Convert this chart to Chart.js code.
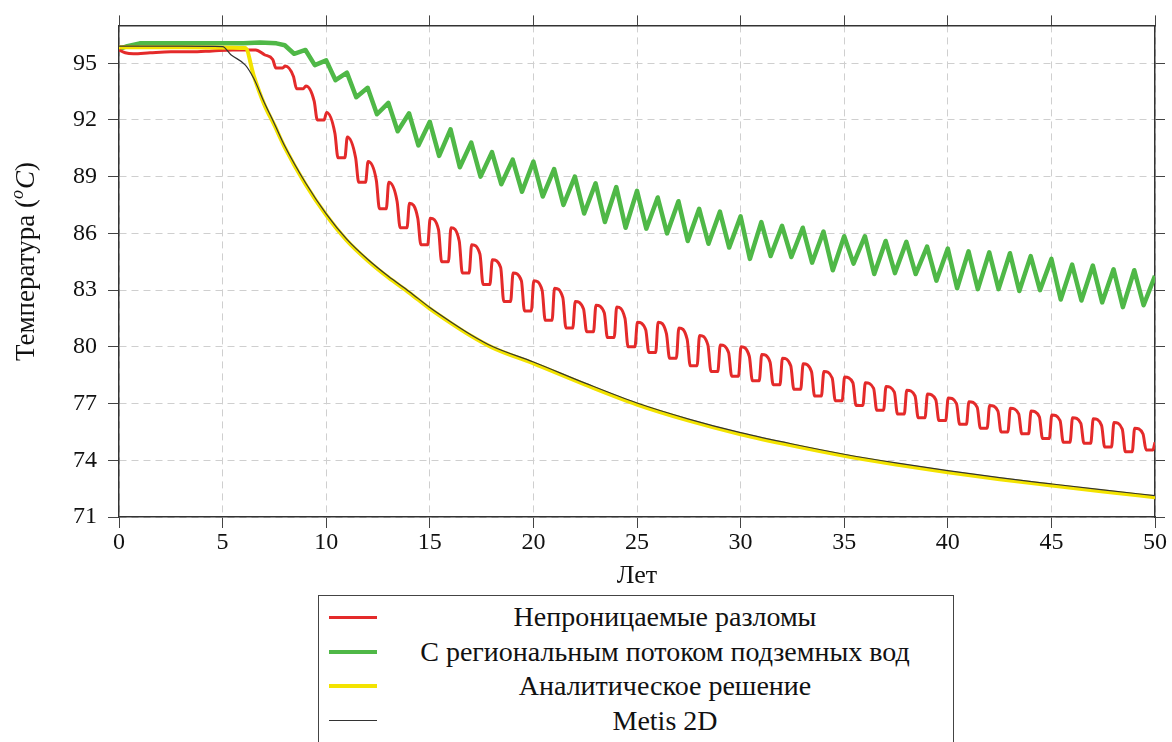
<!DOCTYPE html>
<html>
<head>
<meta charset="utf-8">
<script src="https://cdn.jsdelivr.net/npm/chart.js@4.4.1/dist/chart.umd.min.js"></script>
<style>
    body { margin: 0; background: #fff; }
    #wrap { position: relative; width: 1172px; height: 742px; }
    #legend {
        position: absolute; left: 318px; top: 595px; width: 636px; height: 170px;
        border: 1.5px solid #444; box-sizing: border-box; padding-top: 4px;
        font-family: 'Liberation Serif', 'Times New Roman', serif; font-size: 28px; color: #111; background: #fff;
    }
    .row { display: flex; align-items: center; height: 34.5px; }
    .swatch { width: 48px; margin-left: 10px; }
    .label { flex: 1; text-align: center; }
</style>
</head>
<body>
<div id="wrap">
    <canvas id="chart"></canvas>
    <div id="legend"></div>
</div>
<script>
const xTicks = [0, 5, 10, 15, 20, 25, 30, 35, 40, 45, 50];
const yTicks = [71, 74, 77, 80, 83, 86, 89, 92, 95];
const labels = ['Непроницаемые разломы', 'С региональным потоком подземных вод', 'Аналитическое решение', 'Metis 2D'];

// Impermeable faults: flat start, then one cycle per year (peak, plateau end, trough)
const redFlatYears = [0, 0.3, 0.7, 1.5, 2.5, 3.5, 4.5, 5.5, 6.6];
const redFlat = [95.7, 95.55, 95.5, 95.55, 95.6, 95.6, 95.65, 95.7, 95.7];
const redFirstYear = 7;
const redHigh = [95.45, 94.85, 93.8, 92.4, 91.1, 89.8, 88.7, 87.6, 86.8, 86.3,
    85.4, 84.6, 83.9, 83.5, 83.1, 82.4, 82.2, 82.1, 81.3, 81.3,
    81.0, 80.6, 80.1, 80.0, 79.6, 79.4, 79.1, 78.7, 78.4, 78.1,
    77.9, 77.7, 77.5, 77.3, 77.1, 76.9, 76.75, 76.6, 76.4, 76.25,
    76.2, 76.0, 75.7];
const redMid = [95.2, 94.3, 93.0, 91.3, 90.0, 88.8, 87.7, 86.8, 86.2, 85.6,
    84.9, 84.2, 83.5, 83.0, 82.6, 82.0, 81.8, 81.5, 80.9, 80.7,
    80.4, 80.1, 79.7, 79.5, 79.2, 79.0, 78.7, 78.35, 78.1, 77.8,
    77.6, 77.4, 77.2, 77.0, 76.8, 76.6, 76.45, 76.3, 76.1, 75.95,
    75.85, 75.65, 75.4];
const redLow = [94.75, 93.65, 92.0, 90.0, 88.7, 87.3, 86.3, 85.4, 84.5, 83.9,
    83.3, 82.4, 81.9, 81.4, 81.0, 80.8, 80.5, 80.0, 79.7, 79.4,
    79.0, 78.7, 78.45, 78.2, 78.0, 77.75, 77.4, 77.15, 76.9, 76.65,
    76.45, 76.25, 76.1, 75.9, 75.7, 75.5, 75.4, 75.15, 74.95, 74.9,
    74.7, 74.45, 74.55];
const redEnd = 74.95;

// Regional groundwater flow: flat start, then yearly spike and trough
const greenFlatYears = [0, 0.4, 1, 2, 3, 4, 5, 6, 6.8, 7.6];
const greenFlat = [95.75, 95.9, 96.05, 96.05, 96.05, 96.05, 96.05, 96.05, 96.1, 96.05];
const greenFirstYear = 8;
const greenHigh = [95.95, 95.7, 95.15, 94.5, 93.7, 92.9, 92.35, 91.9, 91.5, 90.8,
    90.3, 89.9, 89.8, 89.4, 89.0, 88.65, 88.45, 88.25, 87.9, 87.7,
    87.3, 87.15, 86.9, 86.6, 86.4, 86.3, 86.1, 85.85, 85.85, 85.6,
    85.55, 85.3, 85.2, 85.05, 85.0, 84.95, 84.8, 84.65, 84.35, 84.3,
    84.1, 84.05];
const greenLow = [95.5, 94.9, 94.1, 93.2, 92.3, 91.4, 90.65, 90.1, 89.5, 89.0,
    88.6, 88.2, 87.95, 87.5, 87.05, 86.6, 86.3, 86.25, 86.0, 85.6,
    85.45, 85.25, 84.65, 84.8, 84.75, 84.45, 84.05, 84.4, 83.85, 83.9,
    83.85, 83.5, 83.1, 83.05, 83.05, 82.95, 83.0, 82.5, 82.45, 82.35,
    82.1, 82.2];
const greenEnd = 83.75;

// Analytical solution
const analyticYears = [0, 3, 6.1, 6.5, 7, 7.5, 8, 9, 10, 11, 12, 13, 14, 15, 16, 17, 18,
    20, 22.5, 25, 27.5, 30, 32.5, 35, 37.5, 40, 42.5, 45, 47.5, 50];
const analytic = [95.85, 95.85, 95.8, 94.35, 92.85, 91.72, 90.55, 88.6, 86.97, 85.62, 84.57,
    83.67, 82.87, 82.02, 81.27, 80.57, 79.97, 79.12, 78.0, 76.95, 76.1, 75.38, 74.78,
    74.24, 73.78, 73.37, 73.0, 72.67, 72.35, 72.05];

// Metis 2D
const metisYears = [0, 3, 5, 5.4, 6.1, 6.5, 7, 7.5, 8, 9, 10, 11, 12, 13, 14, 15, 16, 17, 18,
    20, 22.5, 25, 27.5, 30, 32.5, 35, 37.5, 40, 42.5, 45, 47.5, 50];
const metis = [95.9, 95.9, 95.88, 95.45, 94.9, 94.2, 92.95, 91.8, 90.62, 88.68, 87.03,
    85.68, 84.63, 83.73, 82.93, 82.08, 81.33, 80.63, 80.03, 79.2, 78.08, 77.03, 76.18,
    75.46, 74.86, 74.32, 73.86, 73.45, 73.08, 72.75, 72.43, 72.13];

const colors = ['#e42a2a', '#4fb847', '#f3e300', '#333333'];
const widths = [3, 4.5, 4, 1.2];

const redPoints = redFlatYears.map((t, i) => ({ x: t, y: redFlat[i] }));
redHigh.forEach((v, i) => {
    const n = redFirstYear + i;
    redPoints.push({ x: n + 0.02, y: v }, { x: n + 0.42, y: redMid[i] },
        { x: n + 0.57, y: redLow[i] }, { x: n + 0.9, y: redLow[i] });
});
redPoints.push({ x: 50, y: redEnd });

const greenPoints = greenFlatYears.map((t, i) => ({ x: t, y: greenFlat[i] }));
greenHigh.forEach((v, i) => {
    const n = greenFirstYear + i;
    greenPoints.push({ x: n, y: v }, { x: n + 0.45, y: greenLow[i] });
});
greenPoints.push({ x: 50, y: greenEnd });

const analyticPoints = analyticYears.map((t, i) => ({ x: t, y: analytic[i] }));
const metisPoints = metisYears.map((t, i) => ({ x: t, y: metis[i] }));

const serif = "'Liberation Serif', 'Times New Roman', serif";
const frame = { display: true, color: '#333', width: 1.5 };

function setTicks(values) {
    return axis => { axis.ticks = values.map(v => ({ value: v })); };
}

// Y title with italic superscript o and C
const yTitlePlugin = {
    id: 'yTitle',
    afterDraw(chart) {
        const ctx = chart.ctx;
        const parts = [
            { t: 'Температура (', f: '27px ' + serif, dy: 0 },
            { t: 'o', f: 'italic 18px ' + serif, dy: -9 },
            { t: 'C', f: 'italic 27px ' + serif, dy: 0 },
            { t: ')', f: '27px ' + serif, dy: 0 }
        ];
        ctx.save();
        let total = 0;
        parts.forEach(p => { ctx.font = p.f; p.w = ctx.measureText(p.t).width; total += p.w; });
        ctx.translate(27, 262);
        ctx.rotate(-Math.PI / 2);
        ctx.fillStyle = '#111';
        ctx.textBaseline = 'middle';
        let x = -total / 2;
        parts.forEach(p => {
            ctx.font = p.f;
            ctx.fillText(p.t, x, p.dy);
            x += p.w + (p.t === 'o' ? 1 : 0);
        });
        ctx.restore();
    }
};

const chart = new Chart(document.getElementById('chart'), {
    type: 'line',
    data: {
        datasets: [
            { label: labels[0], data: redPoints, borderColor: colors[0], borderWidth: widths[0], order: 2, cubicInterpolationMode: 'monotone' },
            { label: labels[1], data: greenPoints, borderColor: colors[1], borderWidth: widths[1], order: 3 },
            { label: labels[2], data: analyticPoints, borderColor: colors[2], borderWidth: widths[2], order: 1, cubicInterpolationMode: 'monotone' },
            { label: labels[3], data: metisPoints, borderColor: colors[3], borderWidth: widths[3], order: 0, cubicInterpolationMode: 'monotone' }
        ]
    },
    options: {
        responsive: true,
        maintainAspectRatio: false,
        animation: false,
        elements: { point: { radius: 0 }, line: { tension: 0, borderJoinStyle: 'round' } },
        layout: { padding: { left: 0, top: 9, right: 7, bottom: 150 } },
        plugins: { legend: { display: false }, tooltip: { enabled: false } },
        scales: {
            x: {
                type: 'linear', position: 'bottom', min: 0, max: 50,
                afterBuildTicks: setTicks(xTicks),
                afterFit: s => { s.height = 75; },
                grid: { color: '#cfcfcf', tickLength: 11, tickColor: '#444' },
                border: Object.assign({ dash: [7, 5] }, frame),
                ticks: { font: { family: serif, size: 24 }, color: '#111', padding: 0, maxRotation: 0 },
                title: { display: true, text: 'Лет', font: { family: serif, size: 26 }, color: '#111', padding: { top: 0, bottom: 0 } }
            },
            x2: {
                type: 'linear', position: 'top', min: 0, max: 50,
                afterBuildTicks: setTicks(xTicks),
                grid: { drawOnChartArea: false, tickLength: 10, tickColor: '#444' },
                border: frame,
                ticks: { display: false }
            },
            y: {
                type: 'linear', position: 'left', min: 71, max: 97,
                afterBuildTicks: setTicks(yTicks),
                afterFit: s => { s.width = 119; },
                grid: { color: '#cfcfcf', tickLength: 11, tickColor: '#444' },
                border: Object.assign({ dash: [7, 5] }, frame),
                ticks: { font: { family: serif, size: 24 }, color: '#111', padding: 11 }
            },
            y2: {
                type: 'linear', position: 'right', min: 71, max: 97,
                afterBuildTicks: setTicks(yTicks),
                grid: { drawOnChartArea: false, tickLength: 10, tickColor: '#444' },
                border: frame,
                ticks: { display: false }
            }
        }
    },
    plugins: [yTitlePlugin]
});

// Boxed legend below the plot, built from the datasets
document.getElementById('legend').innerHTML = chart.data.datasets.map(ds => `
    <div class="row">
        <span class="swatch" style="height:${ds.borderWidth}px;background:${ds.borderColor}"></span>
        <span class="label">${ds.label}</span>
    </div>
`).join('');
</script>
</body>
</html>
